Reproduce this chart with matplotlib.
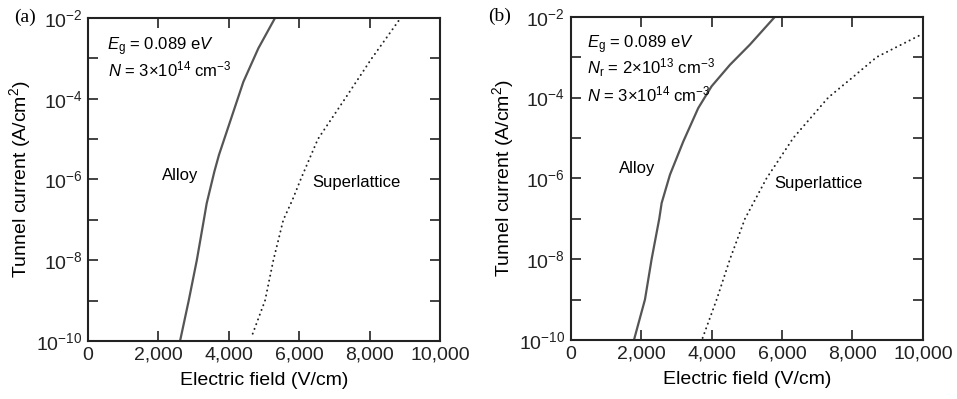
import numpy as np
import matplotlib
matplotlib.use("Agg")
import matplotlib.pyplot as plt
from matplotlib.ticker import FixedLocator, FuncFormatter, NullLocator

plt.rcParams['font.family'] = ['Liberation Sans', 'DejaVu Sans']
plt.rcParams['mathtext.fontset'] = 'custom'
plt.rcParams['mathtext.rm'] = 'Liberation Sans'
plt.rcParams['mathtext.it'] = 'Liberation Sans:italic'
plt.rcParams['mathtext.bf'] = 'Liberation Sans:bold'

# panel (a): electric field (V/cm) at given log10(current)
alloy_a_log = [-10, -9, -8, -7, -6.59, -5.8, -5.39, -4.57, -3.58, -2.75, -2]
alloy_a_field = [2614, 2860, 3090, 3290, 3371, 3590, 3720, 4034, 4413, 4839, 5312]
sl_a_log = [-9.82, -9, -8, -7, -6.5, -6, -5, -4, -3, -2.02]
sl_a_field = [4678, 5028, 5265, 5548, 5810, 6040, 6530, 7300, 8060, 8864]

# panel (b)
alloy_b_log = [-10, -9, -8, -7, -6.61, -5.91, -5.09, -4.26, -3.72, -3.19, -2.69, -2]
alloy_b_field = [1797, 2109, 2298, 2515, 2583, 2819, 3196, 3622, 4002, 4522, 5089, 5800]
sl_b_log = [-9.95, -9, -8, -7, -6, -5, -4, -3.52, -3, -2.42]
sl_b_field = [3746, 4144, 4522, 4948, 5560, 6320, 7313, 7977, 8686, 10000]

xticks = [0, 2000, 4000, 6000, 8000, 10000]
ydecades = list(range(-10, -1))


def ylab(v, pos):
    e = int(round(np.log10(v)))
    if e % 2 == 0:
        return r'$10^{%d}$' % e
    return ''


def setup(ax):
    ax.set_yscale('log')
    ax.set_xlim(0, 10000)
    ax.set_ylim(1e-10, 1e-2)
    ax.xaxis.set_major_locator(FixedLocator(xticks))
    ax.xaxis.set_major_formatter(FuncFormatter(lambda v, p: '{:,}'.format(int(v))))
    ax.yaxis.set_major_locator(FixedLocator([10.0 ** e for e in ydecades]))
    ax.yaxis.set_major_formatter(FuncFormatter(ylab))
    ax.yaxis.set_minor_locator(NullLocator())
    ax.tick_params(direction='in', top=True, right=True, length=7, width=1.2,
                   labelsize=14, pad=4, colors='#222222')
    for s in ax.spines.values():
        s.set_linewidth(1.5)
        s.set_color('#222222')
    ax.set_xlabel('Electric field (V/cm)', fontsize=14, labelpad=6)
    ax.set_ylabel('Tunnel current (A/cm$^2$)', fontsize=14, labelpad=2)


fig = plt.figure(figsize=(9.57, 3.99), dpi=100)
axa = fig.add_axes([0.092, 0.1454, 0.3678, 0.8095])
axb = fig.add_axes([0.5963, 0.1479, 0.3681, 0.8102])

for ax in (axa, axb):
    setup(ax)

dots = (0, (0.1, 2.5))
axa.plot(alloy_a_field, 10.0 ** np.array(alloy_a_log), '-', color='#555555', lw=1.6)
axa.plot(sl_a_field, 10.0 ** np.array(sl_a_log), color='#222222', lw=1.4,
         linestyle=dots, dash_capstyle='round')
axb.plot(alloy_b_field, 10.0 ** np.array(alloy_b_log), '-', color='#555555', lw=1.6)
axb.plot(sl_b_field, 10.0 ** np.array(sl_b_log), color='#222222', lw=1.4,
         linestyle=dots, dash_capstyle='round')

axa.text(2614, 10 ** -5.89, 'Alloy', fontsize=12, ha='center', va='center')
axa.text(7614, 10 ** -6.08, 'Superlattice', fontsize=12, ha='center', va='center')
axb.text(1896, 10 ** -5.76, 'Alloy', fontsize=12, ha='center', va='center')
axb.text(7034, 10 ** -6.13, 'Superlattice', fontsize=12, ha='center', va='center')

axa.text(0.055, 0.912, r'$E_\mathrm{g}$ = 0.089 e$V$', transform=axa.transAxes,
         fontsize=12, va='center')
axa.text(0.058, 0.84, r'$N$ = 3$\times$10$^{14}$ cm$^{-3}$', transform=axa.transAxes,
         fontsize=12, va='center')
axb.text(0.045, 0.912, r'$E_\mathrm{g}$ = 0.089 e$V$', transform=axb.transAxes,
         fontsize=12, va='center')
axb.text(0.045, 0.842, r'$N_\mathrm{r}$ = 2$\times$10$^{13}$ cm$^{-3}$', transform=axb.transAxes,
         fontsize=12, va='center')
axb.text(0.045, 0.76, r'$N$ = 3$\times$10$^{14}$ cm$^{-3}$', transform=axb.transAxes,
         fontsize=12, va='center')

fig.text(25 / 957, 1 - 17 / 399, '(a)', family='Liberation Serif', fontsize=14,
         ha='center', va='center')
fig.text(500 / 957, 1 - 16 / 399, '(b)', family='Liberation Serif', fontsize=14,
         ha='center', va='center')

fig.savefig('out.png', dpi=100)
